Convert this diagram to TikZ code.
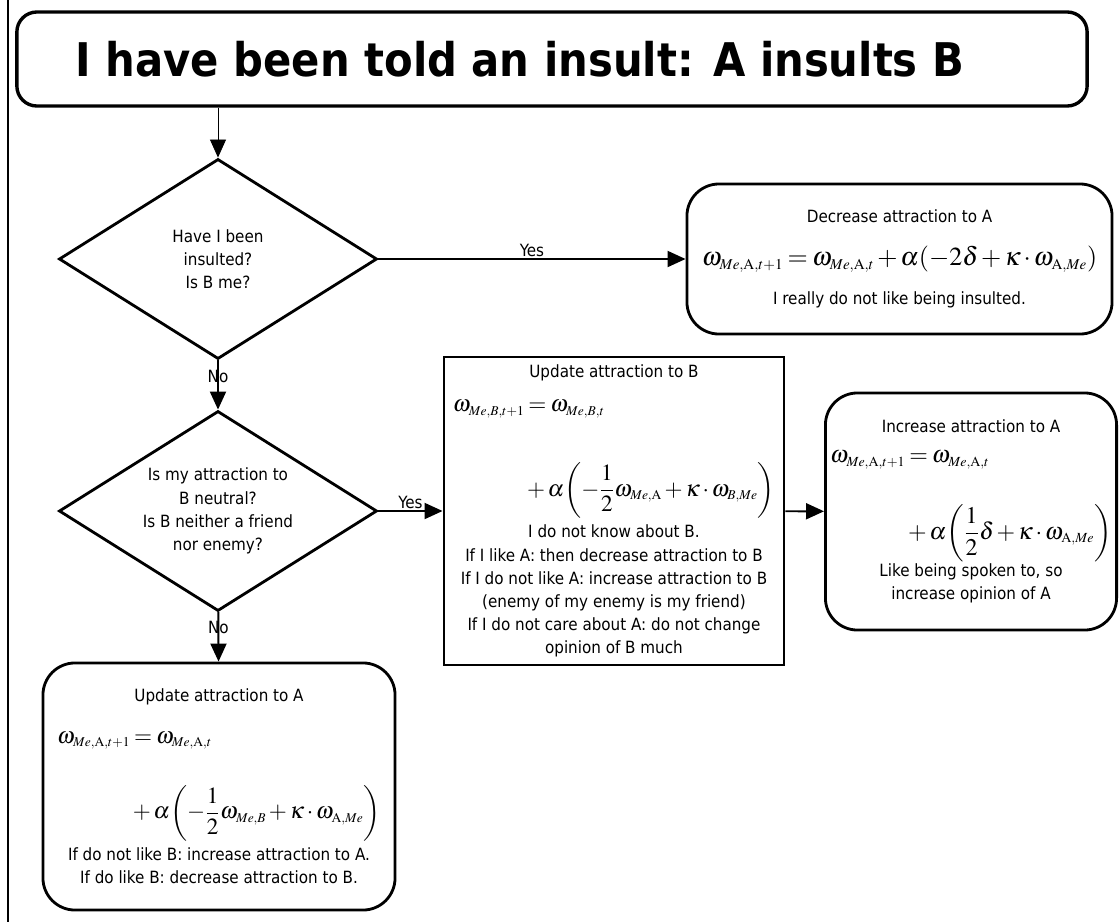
\documentclass[tikz,border=0pt]{standalone}
\usepackage{amsmath}
\usepackage{mathptmx}
\usepackage[no-math]{fontspec}
\setmainfont{DejaVu Sans Condensed}
\usepackage{tikz}
\usetikzlibrary{shapes.geometric,arrows.meta}
\DeclareMathSizes{18.5}{18.5}{10.7}{8.3}
\DeclareMathSizes{17}{17}{9.9}{7.7}
\DeclareMathSizes{16.5}{16.5}{9.6}{7.5}
\newcommand{\eqbig}{\fontsize{18.5}{22}\selectfont\thickmuskip=3mu\medmuskip=2mu}
\newcommand{\eqmid}{\fontsize{17}{20}\selectfont\thickmuskip=3mu\medmuskip=2mu}
\newcommand{\eqsmall}{\fontsize{16.5}{20}\selectfont\thickmuskip=3mu\medmuskip=2mu}

\begin{document}
\begin{tikzpicture}[x=0.025cm,y=-0.025cm,
  txt/.style={font=\fontsize{12}{16.5}\selectfont},
  dec/.style={diamond,draw,line width=2pt,align=center,inner sep=1pt,shape aspect=1.6,minimum width=7.95cm,minimum height=5cm,txt},
  rbox/.style={rectangle,rounded corners=0.8cm,draw,line width=2pt,align=center,txt},
  sbox/.style={rectangle,draw,line width=2pt,align=center,txt},
  arr/.style={-{Triangle[length=4.5mm,width=4mm]},line width=1.4pt},
  lbl/.style={txt,inner sep=1pt}
]
\useasboundingbox (0,0) rectangle (1120,922);
\draw[line width=0.8pt] (8,0) -- (8,922);
\node[rectangle,rounded corners=0.5cm,draw,line width=2.4pt,minimum width=26.75cm,minimum height=2.35cm,font=\fontsize{33}{38}\selectfont\bfseries] (title) at (552,59) {I have been told an insult: A insults B\hspace*{1.6cm}};
\node[dec] (q1) at (218,259) {Have I been\\insulted?\\Is B me?};
\node[dec] (q2) at (218,511) {Is my attraction to\\B neutral?\\Is B neither a friend\\nor enemy?};
\node[rbox,minimum width=10.625cm,minimum height=3.75cm] (decA) at (899.5,259) {Decrease attraction to A\\[14pt]
  {\eqbig$\omega_{Me,\mathrm{A},t+1}=\omega_{Me,\mathrm{A},t}+\alpha\!\left(-2\delta+\kappa\cdot\omega_{\mathrm{A},Me}\right)$}\\[11pt]
  I really do not like being insulted.};
\node[sbox,minimum width=8.5cm,minimum height=7.7cm] (updB) at (614,511) {Update attraction to B\\[7pt]
  {\eqsmall$\displaystyle\begin{aligned}\omega_{Me,B,t+1}&=\omega_{Me,B,t}\\[26pt]
  &{}+\alpha\!\left(-\frac{1}{2}\omega_{Me,\mathrm{A}}+\kappa\cdot\omega_{B,Me}\right)\end{aligned}$}\\[4pt]
  I do not know about B.\\
  If I like A: then decrease attraction to B\\
  If I do not like A: increase attraction to B\\
  (enemy of my enemy is my friend)\\
  If I do not care about A: do not change\\
  opinion of B much};
\node[rbox,minimum width=6.95cm,minimum height=5.925cm] (incA) at (971,511.5) {Increase attraction to A\\[6pt]
  {\eqmid$\displaystyle\begin{aligned}\omega_{Me,\mathrm{A},t+1}&=\omega_{Me,\mathrm{A},t}\\[20pt]
  &{}+\alpha\!\left(\frac{1}{2}\delta+\kappa\cdot\omega_{\mathrm{A},Me}\right)\end{aligned}$}\\
  Like being spoken to, so\\
  increase opinion of A};
\node[rbox,minimum width=8.8cm,minimum height=6.175cm] (updA) at (219,786.5) {Update attraction to A\\[12pt]
  {\eqsmall$\displaystyle\begin{aligned}\omega_{Me,\mathrm{A},t+1}&=\omega_{Me,\mathrm{A},t}\\[20pt]
  &{}+\alpha\!\left(-\frac{1}{2}\omega_{Me,B}+\kappa\cdot\omega_{\mathrm{A},Me}\right)\end{aligned}$}\\[4pt]
  If do not like B: increase attraction to A.\\
  If do like B: decrease attraction to B.};
% connectors
\draw[arr,line width=0.6pt] (title.south -| q1) -- (q1.north);
\draw[arr] (q1) -- node[lbl,above] {Yes} (decA);
\draw[arr] (q1) -- node[lbl,pos=0.33] {No} (q2);
\draw[arr] (q2) -- node[lbl,above] {Yes} (updB);
\draw[arr] (updB) -- (incA);
\draw[arr] (q2) -- node[lbl,pos=0.3] {No} (updA);
\end{tikzpicture}
\end{document}
